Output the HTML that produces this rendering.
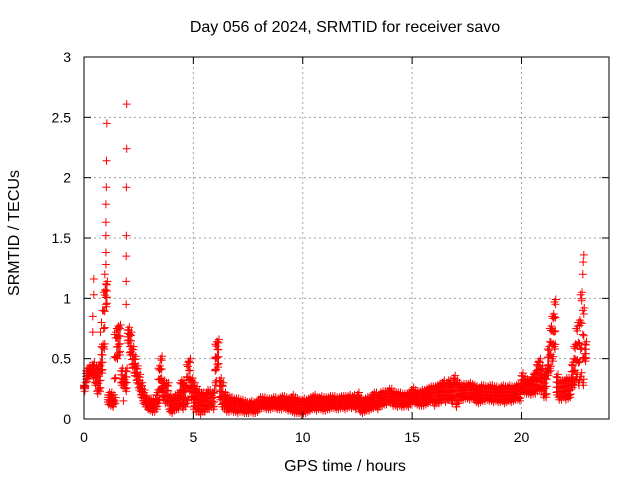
<!DOCTYPE html>
<html><head><meta charset="utf-8"><style>
body{margin:0;background:#fff}
svg text{font-family:"Liberation Sans",sans-serif;font-size:14px;fill:#000}
svg text.big{font-size:16px}
</style></head><body>
<svg id="chart" width="640" height="480" viewBox="0 0 640 480" xmlns="http://www.w3.org/2000/svg">
<rect width="640" height="480" fill="#fff"/>
<g id="grid"></g>
<g id="marks"></g>
<g id="axes"></g>
<text class="big" x="345" y="32" text-anchor="middle">Day 056 of 2024, SRMTID for receiver savo</text>
<text class="big" x="345" y="471" text-anchor="middle">GPS time / hours</text>
<text class="big" transform="translate(19,233) rotate(-90)" text-anchor="middle">SRMTID / TECUs</text>
</svg>
<script>
const xTicks=[0,5,10,15,20];
const yTicks=[0,0.5,1,1.5,2,2.5,3];
const yTickLabels=["0","0.5","1","1.5","2","2.5","3"];
const bandStart=0, bandStep=0.1;
const bandLo=[0.25,0.33,0.36,0.38,0.36,0.30,0.23,0.25,0.40,0.60,
0.95,0.14,0.13,0.12,0.15,0.52,0.55,0.30,0.28,0.25,
0.65,0.55,0.45,0.38,0.32,0.26,0.20,0.15,0.12,0.10,
0.09,0.08,0.08,0.10,0.15,0.25,0.18,0.15,0.15,0.08,
0.07,0.09,0.10,0.10,0.12,0.10,0.12,0.15,0.25,0.18,
0.10,0.08,0.08,0.06,0.08,0.08,0.10,0.10,0.12,0.10,
0.30,0.45,0.18,0.12,0.10,0.08,0.08,0.09,0.08,0.08,
0.07,0.08,0.08,0.07,0.07,0.07,0.08,0.07,0.07,0.08,
0.10,0.11,0.11,0.10,0.10,0.10,0.11,0.11,0.10,0.10,
0.10,0.11,0.10,0.09,0.09,0.08,0.07,0.07,0.07,0.06,
0.07,0.07,0.08,0.09,0.10,0.10,0.09,0.10,0.10,0.09,
0.09,0.10,0.10,0.11,0.11,0.10,0.10,0.11,0.11,0.10,
0.11,0.12,0.11,0.12,0.10,0.12,0.08,0.07,0.08,0.09,
0.09,0.10,0.11,0.12,0.10,0.12,0.13,0.14,0.14,0.16,
0.15,0.13,0.13,0.12,0.13,0.12,0.12,0.13,0.12,0.14,
0.16,0.15,0.14,0.13,0.13,0.13,0.14,0.15,0.16,0.16,
0.13,0.15,0.15,0.16,0.18,0.16,0.18,0.19,0.15,0.18,
0.12,0.15,0.18,0.18,0.19,0.19,0.18,0.19,0.18,0.16,
0.15,0.16,0.17,0.17,0.18,0.17,0.17,0.16,0.17,0.16,
0.16,0.17,0.15,0.16,0.17,0.16,0.17,0.18,0.18,0.17,
0.25,0.24,0.23,0.23,0.22,0.23,0.23,0.25,0.26,0.25,
0.20,0.20,0.38,0.42,0.50,0.60,0.22,0.18,0.18,0.20,
0.18,0.19,0.20,0.28,0.30,0.35,0.30,0.35,0.30,0.50];
const bandHi=[0.28,0.40,0.42,0.42,0.45,0.42,0.42,0.45,0.60,1.05,
1.12,0.20,0.20,0.18,0.70,0.75,0.76,0.40,0.33,0.40,
0.74,0.70,0.58,0.50,0.42,0.35,0.28,0.22,0.17,0.15,
0.15,0.14,0.14,0.20,0.42,0.50,0.30,0.28,0.28,0.18,
0.16,0.18,0.18,0.20,0.30,0.30,0.28,0.45,0.48,0.32,
0.28,0.25,0.22,0.20,0.20,0.18,0.22,0.22,0.20,0.22,
0.62,0.64,0.32,0.28,0.20,0.18,0.16,0.16,0.15,0.15,
0.15,0.14,0.14,0.13,0.12,0.12,0.13,0.12,0.12,0.14,
0.16,0.16,0.16,0.15,0.15,0.15,0.16,0.16,0.15,0.16,
0.17,0.17,0.16,0.15,0.16,0.18,0.16,0.15,0.14,0.14,
0.15,0.14,0.15,0.16,0.17,0.18,0.16,0.16,0.17,0.16,
0.16,0.16,0.17,0.17,0.17,0.16,0.16,0.17,0.17,0.17,
0.17,0.18,0.17,0.18,0.17,0.20,0.16,0.14,0.15,0.16,
0.16,0.18,0.20,0.20,0.18,0.20,0.21,0.21,0.21,0.23,
0.23,0.21,0.20,0.20,0.20,0.19,0.19,0.19,0.20,0.22,
0.24,0.22,0.21,0.21,0.22,0.22,0.23,0.24,0.25,0.25,
0.25,0.26,0.27,0.28,0.30,0.28,0.30,0.30,0.28,0.34,
0.30,0.28,0.26,0.27,0.27,0.27,0.28,0.27,0.26,0.25,
0.24,0.26,0.26,0.25,0.25,0.26,0.26,0.25,0.25,0.24,
0.25,0.26,0.25,0.25,0.26,0.25,0.25,0.26,0.27,0.27,
0.36,0.33,0.31,0.30,0.32,0.35,0.38,0.45,0.48,0.42,
0.35,0.40,0.58,0.75,0.85,0.97,0.35,0.30,0.30,0.30,
0.32,0.32,0.32,0.45,0.60,0.75,0.80,1.03,0.90,0.62];
const spikeT=[0.4,0.4,0.45,0.45,0.75,0.8,0.85,0.9,0.95,1.0,1.0,1.0,1.0,1.0,1.02,1.03,1.04,1.93,1.93,1.93,1.94,1.94,1.95,1.95,1.8,6.0,6.0,22.75,22.8,22.82,22.85];
const spikeV=[0.72,0.85,1.03,1.16,0.72,0.8,0.9,1.05,1.2,1.28,1.38,1.52,1.63,1.78,1.92,2.14,2.45,0.95,1.14,1.35,1.52,1.92,2.24,2.61,0.15,0.4,0.5,0.98,1.2,1.3,1.36];

const X0=84,X1=609,Y0=419,Y1=57,XMAX=24,YMAX=3;
const sx=t=>X0+(X1-X0)*t/XMAX;
const sy=v=>Y0-(Y0-Y1)*v/YMAX;
const NS='http://www.w3.org/2000/svg';
function mk(tag,attrs,parent){const e=document.createElementNS(NS,tag);for(const k in attrs)e.setAttribute(k,attrs[k]);parent.appendChild(e);return e;}
const grid=document.getElementById('grid'),axes=document.getElementById('axes'),marks=document.getElementById('marks');
xTicks.forEach(t=>{
  const x=sx(t);
  if(t>0){const g=mk('line',{x1:x,y1:Y0,x2:x,y2:Y1,stroke:'#a0a0a0','stroke-dasharray':'2,3'},grid);
  
  }
  mk('line',{x1:x,y1:Y0,x2:x,y2:Y0-7,stroke:'#000'},axes);
  mk('line',{x1:x,y1:Y1,x2:x,y2:Y1+7,stroke:'#000'},axes);
  const l=mk('text',{x:x,y:Y0+23,'text-anchor':'middle'},axes);l.textContent=String(t);
  
  
});
yTicks.forEach((v,i)=>{
  const y=sy(v);
  if(v>0&&v<YMAX){const g=mk('line',{x1:X0,y1:y,x2:X1,y2:y,stroke:'#a0a0a0','stroke-dasharray':'2,3'},grid);
  
  }
  mk('line',{x1:X0,y1:y,x2:X0+7,y2:y,stroke:'#000'},axes);
  mk('line',{x1:X1,y1:y,x2:X1-7,y2:y,stroke:'#000'},axes);
  const l=mk('text',{x:X0-13,y:y+5,'text-anchor':'end'},axes);l.textContent=yTickLabels[i];
  
  
});
const frame=mk('rect',{x:X0,y:Y1,width:X1-X0,height:Y0-Y1,fill:'none',stroke:'#000'},axes);


let d='';
function cross(t,v){const x=sx(t),y=sy(v);d+='M'+(x-4).toFixed(1)+' '+y.toFixed(1)+'h8M'+x.toFixed(1)+' '+(y-4).toFixed(1)+'v8';}
bandLo.forEach((lo,i)=>{
  const hi=bandHi[i],t=bandStart+i*bandStep;
  const r=hi-lo;
  for(let k=0;k<=3;k++){cross(t,lo+r*k/3);cross(t+0.05,lo+r*(3-k)/3*0.9+r*0.05);}
  cross(t+0.03,lo-0.02);cross(t+0.07,hi+0.02);
});
spikeT.forEach((t,i)=>cross(t,spikeV[i]));
const p=mk('path',{d:d,stroke:'#ff0000','stroke-width':1,fill:'none'},marks);


</script>
</body></html>
